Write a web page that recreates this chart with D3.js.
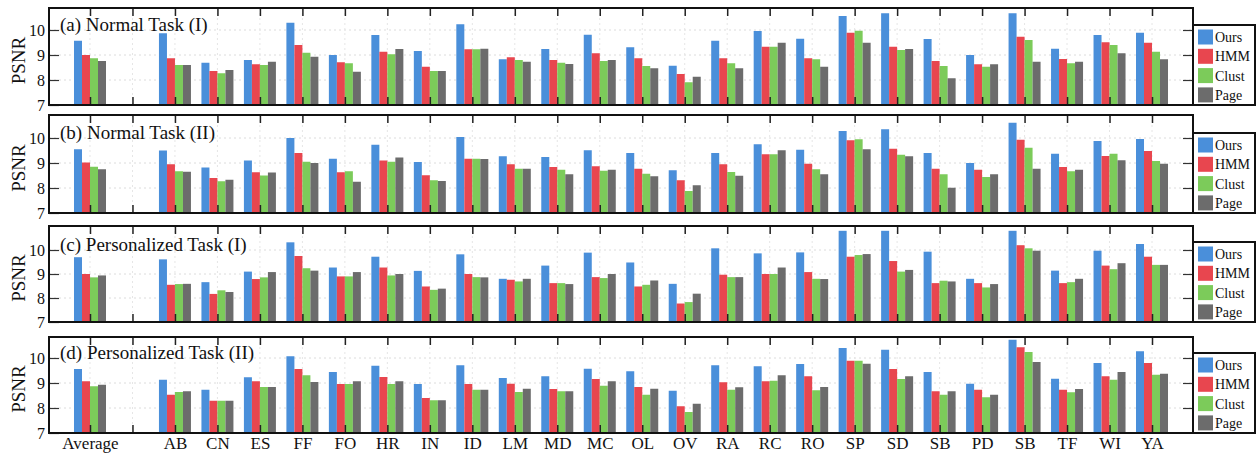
<!DOCTYPE html>
<html><head><meta charset="utf-8">
<script src="https://cdn.jsdelivr.net/npm/d3@7"></script>
<style>body{margin:0;background:#fff;}svg{display:block;}</style>
</head><body>
<svg id="c" width="1256" height="455"></svg>
<script>
const categories = ["Average","AB","CN","ES","FF","FO","HR","IN","ID","LM","MD","MC","OL","OV","RA","RC","RO","SP","SD","SB","PD","SB","TF","WI","YA"];
const seriesNames = ["Ours","HMM","Clust","Page"];
const panelTitles = ["(a) Normal Task (I)","(b) Normal Task (II)","(c) Personalized Task (I)","(d) Personalized Task (II)"];
const yTicks = [7,8,9,10];

// Panel (a) Normal Task (I)
const a_Ours  = [9.57,9.87,8.69,8.80,10.29,9.00,9.80,9.16,10.23,8.83,9.24,9.81,9.31,8.57,9.57,9.96,9.65,10.56,10.67,9.64,9.00,10.67,9.25,9.80,9.89];
const a_HMM   = [9.00,8.87,8.36,8.63,9.40,8.71,9.13,8.53,9.23,8.91,8.80,9.07,8.87,8.24,8.87,9.33,8.87,9.89,9.33,8.76,8.63,9.73,8.84,9.51,9.49];
const a_Clust = [8.87,8.60,8.27,8.60,9.09,8.67,9.03,8.36,9.23,8.80,8.69,8.76,8.56,7.91,8.67,9.33,8.83,9.97,9.20,8.56,8.53,9.60,8.67,9.40,9.13];
const a_Page  = [8.76,8.60,8.40,8.73,8.93,8.33,9.24,8.36,9.25,8.73,8.64,8.80,8.47,8.13,8.47,9.49,8.53,9.49,9.24,8.07,8.63,8.73,8.73,9.07,8.83];
// Panel (b) Normal Task (II)
const b_Ours  = [9.55,9.50,8.82,9.10,10.00,9.17,9.73,9.04,10.04,9.27,9.24,9.51,9.40,8.71,9.40,9.75,9.53,10.28,10.35,9.40,9.00,10.61,9.37,9.88,9.96];
const b_HMM   = [9.02,8.95,8.40,8.63,9.40,8.63,9.10,8.51,9.17,8.95,8.84,8.87,8.77,8.31,8.95,9.35,8.97,9.91,9.57,8.77,8.73,9.93,8.84,9.28,9.48];
const b_Clust = [8.85,8.67,8.27,8.50,9.05,8.67,9.05,8.31,9.17,8.77,8.73,8.69,8.57,7.88,8.64,9.35,8.75,9.95,9.33,8.55,8.44,9.61,8.67,9.37,9.08];
const b_Page  = [8.75,8.65,8.33,8.62,9.00,8.25,9.22,8.28,9.16,8.77,8.55,8.73,8.47,8.11,8.49,9.51,8.55,9.55,9.27,8.01,8.55,8.77,8.73,9.11,8.97];
// Panel (c) Personalized Task (I)
const c_Ours  = [9.70,9.61,8.66,9.10,10.32,9.27,9.72,9.13,9.82,8.80,9.35,9.89,9.48,8.59,10.07,9.86,9.90,10.80,10.80,9.93,8.80,10.80,9.14,9.97,10.25];
const c_HMM   = [9.00,8.55,8.17,8.79,9.75,8.90,9.27,8.48,9.00,8.76,8.62,8.87,8.48,7.77,8.97,9.00,9.08,9.72,9.54,8.62,8.62,10.20,8.62,9.35,9.72];
const c_Clust = [8.86,8.58,8.32,8.86,9.24,8.90,8.94,8.34,8.87,8.69,8.62,8.83,8.55,7.83,8.87,9.00,8.80,9.79,9.10,8.72,8.44,10.07,8.66,9.20,9.38];
const c_Page  = [8.94,8.59,8.25,9.08,9.14,9.08,9.00,8.39,8.86,8.80,8.58,9.00,8.73,8.18,8.87,9.27,8.79,9.83,9.17,8.69,8.58,9.97,8.80,9.45,9.38];
// Panel (d) Personalized Task (II)
const d_Ours  = [9.56,9.13,8.73,9.23,10.07,9.44,9.69,8.96,9.71,9.20,9.27,9.57,9.47,8.69,9.71,9.67,9.76,10.40,10.33,9.44,8.97,10.73,9.17,9.80,10.27];
const d_HMM   = [9.07,8.53,8.29,9.07,9.56,8.96,9.24,8.40,8.96,8.97,8.76,9.16,8.84,8.07,9.03,9.07,9.27,9.89,9.56,8.67,8.73,10.43,8.73,9.27,9.80];
const d_Clust = [8.87,8.64,8.29,8.84,9.31,8.96,8.96,8.31,8.73,8.64,8.67,8.89,8.53,7.84,8.73,9.09,8.71,9.89,9.16,8.53,8.43,10.24,8.63,9.13,9.33];
const d_Page  = [8.93,8.67,8.29,8.84,9.04,9.07,9.07,8.31,8.73,8.77,8.67,9.07,8.77,8.17,8.83,9.31,8.84,9.77,9.27,8.67,8.53,9.84,8.76,9.44,9.37];

const panels = [
  [a_Ours,a_HMM,a_Clust,a_Page],
  [b_Ours,b_HMM,b_Clust,b_Page],
  [c_Ours,c_HMM,c_Clust,c_Page],
  [d_Ours,d_HMM,d_Clust,d_Page]
];

const colors = ["#4a8fda","#e8464f","#7ccb5a","#6c6c6c"];
const svg = d3.select("#c");
const font = "'Liberation Serif','Times New Roman',serif";

const left = 49, right = 1193;
const panelTop = [8, 115, 226, 337];
const panelBottom = [105, 213, 322, 433];

// slots: Average, gap, then 24 categories
const slotKeys = ["s0","gap"].concat(d3.range(1, categories.length).map(i => "s" + i));
const slotLabel = k => k === "gap" ? "" : categories[+k.slice(1)];
const x = d3.scalePoint().domain(slotKeys).range([left, right]).padding(0.965);
const keyOf = i => "s" + i;
const inner = d3.scaleBand().domain(seriesNames).range([-16, 16]).padding(0);

panels.forEach((series, p) => {
  const top = panelTop[p], bottom = panelBottom[p];
  const unit = (p === 2) ? 24 : 25;
  const y = d3.scaleLinear().domain([7, 10]).range([bottom, bottom - 3 * unit]);
  const g = svg.append("g");

  // grid
  g.append("g").selectAll("line").data([8,9,10]).join("line")
    .attr("x1", left).attr("x2", right).attr("y1", d => y(d)).attr("y2", d => y(d))
    .attr("stroke", "#dcdcdc").attr("stroke-width", 1).attr("stroke-dasharray", "2,3");
  g.append("g").selectAll("line").data(slotKeys).join("line")
    .attr("x1", d => x(d)).attr("x2", d => x(d)).attr("y1", top).attr("y2", bottom)
    .attr("stroke", "#e6e6e6").attr("stroke-width", 1).attr("stroke-dasharray", "2,3");

  // bars
  series.forEach((vals, s) => {
    g.append("g").selectAll("rect").data(vals).join("rect")
      .attr("x", (d, i) => x(keyOf(i)) + inner(seriesNames[s]))
      .attr("width", inner.bandwidth())
      .attr("y", d => y(d))
      .attr("height", d => y(7) - y(d))
      .attr("fill", colors[s]);
  });

  // top ticks
  const topAxis = d3.axisTop(x).tickSizeInner(-8).tickSizeOuter(0).tickFormat("");
  g.append("g").attr("transform", `translate(0,${top})`).call(topAxis)
    .call(s => s.select(".domain").remove())
    .selectAll("line").attr("stroke", "#222").attr("stroke-width", 1.5);

  // bottom axis
  const botAxis = d3.axisBottom(x).tickSizeInner(-8).tickSizeOuter(0)
    .tickFormat(p === 3 ? slotLabel : "").tickPadding(6);
  const bg = g.append("g").attr("transform", `translate(0,${bottom})`).call(botAxis);
  bg.select(".domain").remove();
  bg.selectAll("line").attr("stroke", "#222").attr("stroke-width", 1.5);
  bg.selectAll("text").attr("font-family", font).attr("font-size", 17).attr("fill", "#111").attr("dy", "0.6em");

  // left axis
  const la = g.append("g").attr("transform", `translate(${left},0)`)
    .call(d3.axisLeft(y).tickValues(yTicks).tickSizeInner(-10).tickSizeOuter(0).tickPadding(4).tickFormat(d3.format("d")));
  la.select(".domain").remove();
  la.selectAll("line").attr("stroke", "#333").attr("stroke-width", 1.2);
  la.selectAll("text").attr("font-family", font).attr("font-size", 16).attr("fill", "#111");

  // right ticks
  const ra = g.append("g").attr("transform", `translate(${right},0)`)
    .call(d3.axisRight(y).tickValues([8,9,10]).tickSizeInner(-10).tickSizeOuter(0).tickFormat(""));
  ra.select(".domain").remove();
  ra.selectAll("line").attr("stroke", "#333").attr("stroke-width", 1.2);

  // box
  g.append("rect").attr("x", left).attr("y", top).attr("width", right - left).attr("height", bottom - top)
    .attr("fill", "none").attr("stroke", "#111").attr("stroke-width", 2);

  // title
  g.append("text").attr("x", 60).attr("y", y(10) + 1)
    .attr("font-family", font).attr("font-size", 19).attr("fill", "#111").text(panelTitles[p]);

  // y label
  g.append("text").attr("transform", `translate(${25},${(top + bottom) / 2 + 4}) rotate(-90)`)
    .attr("text-anchor", "middle").attr("font-family", font).attr("font-size", 19).attr("fill", "#111").text("PSNR");

  // legend
  const lg = g.append("g").attr("transform", `translate(${right},${bottom - 80})`);
  lg.append("rect").attr("x", 0).attr("y", 0).attr("width", 62).attr("height", 80)
    .attr("fill", "#fff").attr("stroke", "#111").attr("stroke-width", 2);
  seriesNames.forEach((nm, s) => {
    const cy = 12 + s * 19.3;
    lg.append("rect").attr("x", 5).attr("y", cy - 7.5).attr("width", 15).attr("height", 15).attr("fill", colors[s]);
    lg.append("text").attr("x", 22).attr("y", cy + 5).attr("font-family", font).attr("font-size", 14)
      .attr("fill", "#111").text(nm);
  });
});
</script>
</body></html>
